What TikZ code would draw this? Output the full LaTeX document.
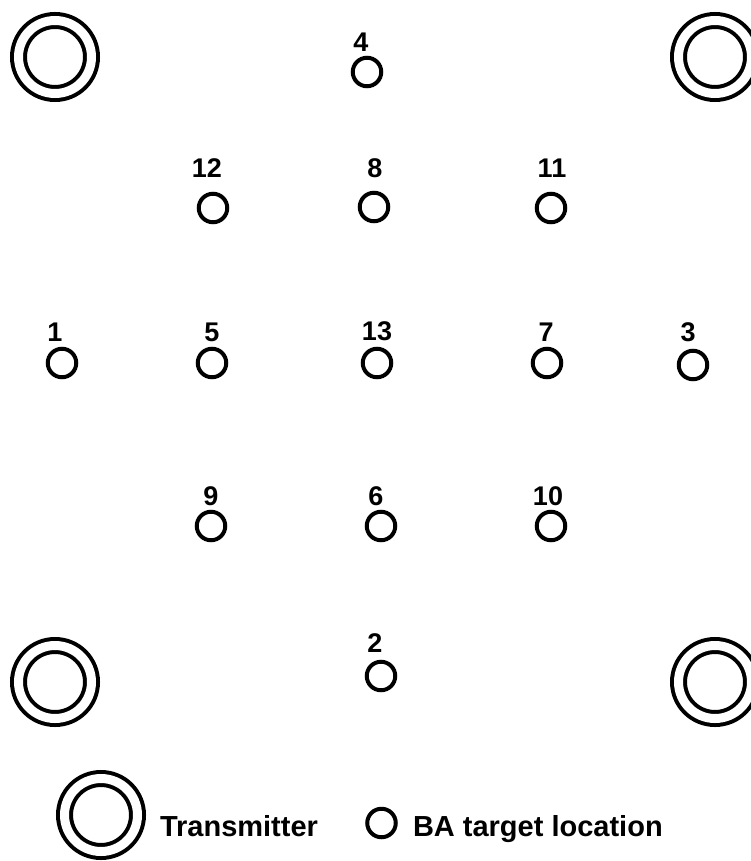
\documentclass[tikz,border=0pt]{standalone}
\usepackage{fontspec}
\setmainfont{Liberation Sans}
\usepackage{tikz}
\usetikzlibrary{positioning}
\tikzset{every picture/.style={line width=4pt}}

\begin{document}
\begin{tikzpicture}[x=1pt,y=-1pt,
 target/.style={circle,draw,minimum size=28.5pt,inner sep=0pt},
 transmitter/.style={circle,draw,double,double distance=9pt,minimum size=73pt,inner sep=0pt},
 tag/.style={inner sep=0pt,font=\bfseries\fontsize{27}{27}\selectfont},
 legendtext/.style={inner sep=0pt,anchor=base west,font=\bfseries\fontsize{29}{29}\selectfont}]
 \useasboundingbox (0,0) rectangle (750,861);
 % transmitters in the corners
 \node[transmitter] (txnw) at (55,57) {};
 \node[transmitter] (txne) at (715,57) {};
 \node[transmitter] (txsw) at (55,682) {};
 \node[transmitter] (txse) at (715,682) {};
 % target locations and their numbers
 \foreach \n/\x/\y/\lx/\ly in {4/367/72/361/42, 12/213/208/207/168, 8/374/207/375/168,
  11/551/208/552/168, 1/62/363/55/332, 5/212/363/212/332, 13/377/363/377/331,
  7/547/363/546/332, 3/693/365/688/332, 9/211/526/211/496, 6/381/526/376/496,
  10/551/526/548/496, 2/381/676/375/643}{
  \node[target] (t\n) at (\x,\y) {};
  \node[tag] (l\n) at (\lx,\ly) {\n};
 }
 % legend
 \node[transmitter] (legtx) at (101,815) {};
 \node[legendtext] (legtxtext) at (158,836) {Transmitter};
 \node[target] (legt) at (381.5,823) {};
 \node[legendtext] (legttext) at (411,836) {BA target location};
\end{tikzpicture}
\end{document}
